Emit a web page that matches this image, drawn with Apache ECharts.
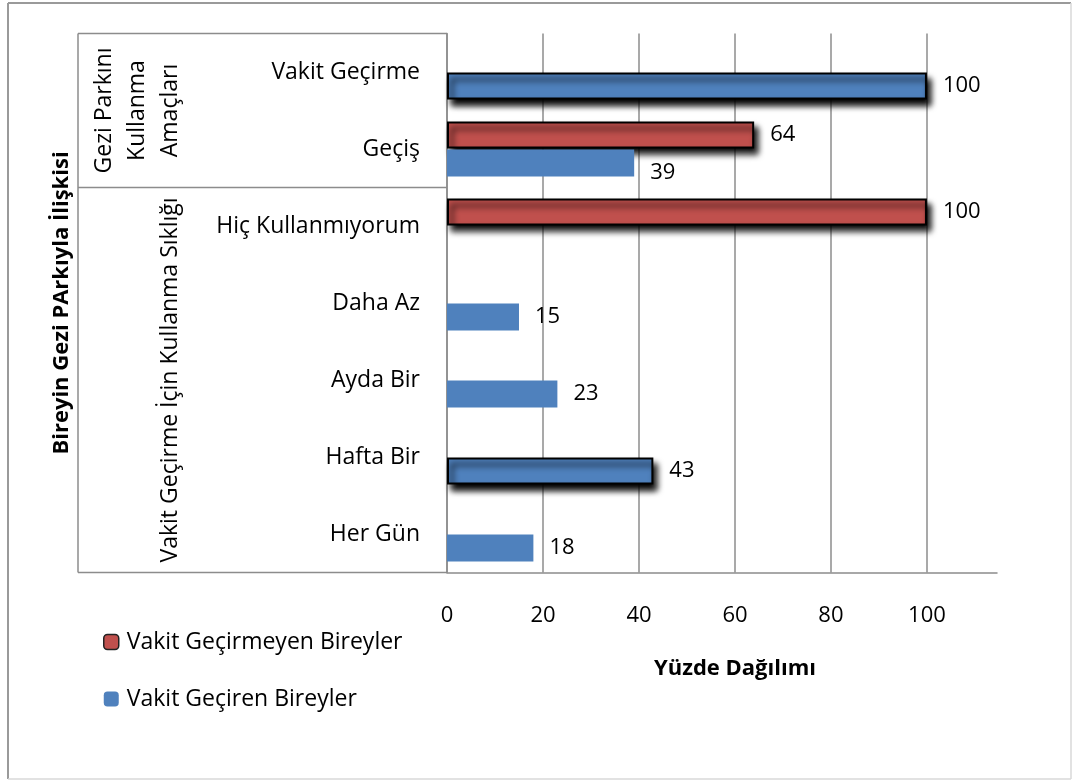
<!DOCTYPE html>
<html>
<head>
<meta charset="utf-8">
<script src="https://cdn.jsdelivr.net/npm/echarts@6/dist/echarts.min.js"></script>
<style>
  html, body { margin: 0; padding: 0; background: #fff; }
  #chart { width: 1072px; height: 780px; }
</style>
</head>
<body>
<div id="chart"></div>
<script>
// values (top to bottom)
const categories = ['Vakit Geçirme', 'Geçiş', 'Hiç Kullanmıyorum', 'Daha Az', 'Ayda Bir', 'Hafta Bir', 'Her Gün'];
const nonUsers = [null, 64, 100, null, null, null, null]; // Vakit Geçirmeyen Bireyler
const users = [100, 39, null, 15, 23, 43, 18];            // Vakit Geçiren Bireyler
const groups = [
  { label: 'Gezi Parkını\nKullanma\nAmaçları', from: 0, to: 1 },
  { label: 'Vakit Geçirme İçin Kullanma Sıklığı', from: 2, to: 6 },
];
const seriesNames = ['Vakit Geçirmeyen Bireyler', 'Vakit Geçiren Bireyler'];
const xTicks = [0, 20, 40, 60, 80, 100];

const FONT = '"Open Sans", "DejaVu Sans", sans-serif';
const GRID_LINE = '#8c8c8c';
const RED = '#c0504d';
const BLUE = '#4f81bd';

// bars drawn with black outline + drop shadow in the original
const outlined = { 0: [1, 2], 1: [0, 5] };

const grid = { left: 447, top: 33.5, right: 75, bottom: 207.5 };
const band = (780 - grid.top - grid.bottom) / categories.length;

function buildData(values, seriesIdx) {
  return values.map((v, i) => {
    const item = { value: v };
    if (outlined[seriesIdx].includes(i)) {
      item.itemStyle = {
        borderColor: '#000',
        borderWidth: 2,
        shadowColor: 'rgba(0,0,0,1)',
        shadowBlur: 6,
        shadowOffsetX: 4,
        shadowOffsetY: 6,
      };
    }
    if (seriesIdx === 1 && i === 1) {
      item.label = { offset: [0, 10] };
    }
    return item;
  });
}

const labelStyle = {
  show: true,
  position: 'right',
  distance: 16,
  fontSize: 22,
  fontFamily: FONT,
  color: '#000',
};

const tableX = 78;
const plotBottom = 780 - grid.bottom;
const lineStyle = { stroke: GRID_LINE, lineWidth: 1.5 };

const graphic = [
  // outer frame
  { type: 'line', shape: { x1: 8, y1: 3, x2: 1071, y2: 3 }, style: { stroke: '#9a9a9a', lineWidth: 2 } },
  { type: 'line', shape: { x1: 8, y1: 3, x2: 8, y2: 779 }, style: { stroke: '#9a9a9a', lineWidth: 2 } },
  { type: 'line', shape: { x1: 1071, y1: 3, x2: 1071, y2: 779 }, style: { stroke: '#d8d8d8', lineWidth: 1.5 } },
  { type: 'line', shape: { x1: 8, y1: 779, x2: 1071, y2: 779 }, style: { stroke: '#d8d8d8', lineWidth: 1.5 } },
  // multi-level category table
  { type: 'line', shape: { x1: tableX, y1: grid.top, x2: grid.left, y2: grid.top }, style: lineStyle },
  { type: 'line', shape: { x1: tableX, y1: plotBottom, x2: grid.left, y2: plotBottom }, style: lineStyle },
  { type: 'line', shape: { x1: tableX, y1: grid.top, x2: tableX, y2: plotBottom }, style: lineStyle },
];
groups.forEach((g, gi) => {
  if (gi > 0) {
    const y = grid.top + band * g.from;
    graphic.push({ type: 'line', shape: { x1: tableX, y1: y, x2: grid.left, y2: y }, style: lineStyle });
  }
  graphic.push({
    type: 'text',
    x: gi === 0 ? 137 : 170,
    y: grid.top + band * (g.from + g.to + 1) / 2,
    rotation: Math.PI / 2,
    style: {
      text: g.label,
      align: 'center',
      verticalAlign: 'middle',
      fontSize: 23,
      fontFamily: FONT,
      lineHeight: 33,
      fill: '#000',
    },
  });
});

const option = {
  animation: false,
  grid: grid,
  legend: {
    orient: 'vertical',
    left: 98,
    top: 624,
    itemWidth: 15,
    itemHeight: 15,
    itemGap: 31,
    textStyle: { fontSize: 23, fontFamily: FONT, color: '#000', lineHeight: 26, padding: [0, 0, 0, 3] },
    data: [
      { name: seriesNames[0], itemStyle: { borderColor: '#222', borderWidth: 1.5 } },
      { name: seriesNames[1] },
    ],
  },
  xAxis: {
    type: 'value',
    min: 0,
    max: 114.6,
    interval: 20,
    name: 'Yüzde Dağılımı',
    nameLocation: 'middle',
    nameGap: 85,
    nameTextStyle: { fontSize: 22, fontWeight: 'bold', fontFamily: FONT, color: '#000', padding: [0, 0, 0, 26] },
    axisLine: { show: true, lineStyle: { color: GRID_LINE, width: 1.5 } },
    axisTick: { show: false },
    axisLabel: {
      fontSize: 22,
      fontFamily: FONT,
      color: '#000',
      margin: 32,
      formatter: (v) => (xTicks.includes(v) ? String(v) : ''),
    },
    splitLine: { show: true, showMaxLine: false, lineStyle: { color: GRID_LINE, width: 1.5 } },
  },
  yAxis: {
    type: 'category',
    data: categories,
    inverse: true,
    name: 'Bireyin Gezi PArkıyla İlişkisi',
    nameLocation: 'middle',
    nameRotate: 90,
    nameGap: 374,
    nameTextStyle: { fontSize: 22, fontWeight: 'bold', fontFamily: FONT, color: '#000' },
    axisLine: { show: true, lineStyle: { color: GRID_LINE, width: 1.5 } },
    axisTick: { show: false },
    axisLabel: { fontSize: 23, fontFamily: FONT, color: '#000', margin: 27 },
  },
  series: [
    {
      name: seriesNames[0],
      type: 'bar',
      data: buildData(nonUsers, 0),
      barWidth: 27,
      barGap: '4%',
      itemStyle: { color: RED },
      label: labelStyle,
    },
    {
      name: seriesNames[1],
      type: 'bar',
      data: buildData(users, 1),
      barWidth: 27,
      barGap: '4%',
      itemStyle: { color: BLUE },
      label: labelStyle,
    },
  ],
  graphic: graphic,
};

const myChart = echarts.init(document.getElementById('chart'));
myChart.setOption(option);
</script>
</body>
</html>
